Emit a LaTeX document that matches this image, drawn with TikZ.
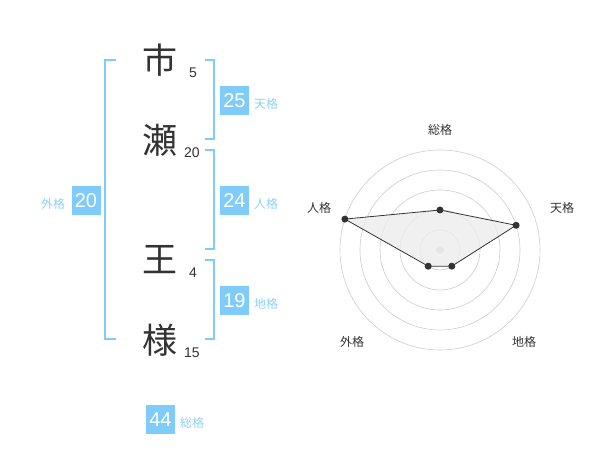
\documentclass[tikz,border=0pt]{standalone}
\usepackage{fontspec}
\setmainfont{Liberation Sans}
\newfontfamily\jp{Noto Sans CJK JP}
\definecolor{boxblue}{HTML}{7FCCFA}
\definecolor{lblblue}{HTML}{8ED1F7}
\definecolor{ink}{HTML}{333333}
\definecolor{ring}{HTML}{CCCCCC}
\begin{document}
\begin{tikzpicture}[x=1pt,y=-1pt,
  kanji/.style={font=\jp\fontsize{35}{35}\selectfont, text=ink, inner sep=0pt},
  stroke/.style={font=\fontsize{14}{14}\selectfont, text=ink, inner sep=0pt},
  numbox/.style={fill=boxblue, text=white, minimum width=29pt, minimum height=29pt, inner sep=0pt, font=\fontsize{20}{20}\selectfont},
  kaku/.style={font=\jp\fontsize{12}{12}\selectfont, text=lblblue, inner sep=0pt},
  bracket/.style={draw=boxblue, line width=2pt},
  axislbl/.style={font=\jp\fontsize{12}{12}\selectfont, text=ink, inner sep=0pt},
  dot/.style={circle, fill=ink, inner sep=0pt, minimum size=7pt}]
\useasboundingbox (0,0) rectangle (600,470);
% kanji
\node[kanji] (k1) at (160,60) {市};
\node[kanji] (k2) at (160,140) {瀬};
\node[kanji] (k3) at (160,260) {王};
\node[kanji] (k4) at (160,340) {様};
\node[stroke] (s1) at (193,73) {5};
\node[stroke] (s2) at (192,153) {20};
\node[stroke] (s3) at (193,273) {4};
\node[stroke] (s4) at (192,353) {15};
% brackets
\coordinate (la) at (116,60); \coordinate (lb) at (116,339);
\draw[bracket] (la) -- (105,60) -- (105,339) -- (lb);
\coordinate (r1a) at (205,60); \coordinate (r1b) at (205,139);
\draw[bracket] (r1a) -- (214,60) -- (214,139) -- (r1b);
\coordinate (r2a) at (205,150); \coordinate (r2b) at (205,249);
\draw[bracket] (r2a) -- (214,150) -- (214,249) -- (r2b);
\coordinate (r3a) at (205,260); \coordinate (r3b) at (205,339);
\draw[bracket] (r3a) -- (214,260) -- (214,339) -- (r3b);
% boxes
\node[numbox] (ten) at (234.5,100.5) {25};
\node[kaku] (tenl) at (266,103.5) {天格};
\node[numbox] (jin) at (234.5,200.5) {24};
\node[kaku] (jinl) at (266,203.5) {人格};
\node[numbox] (gai) at (86,200.5) {20};
\node[kaku] (gail) at (53,203.5) {外格};
\node[numbox] (chi) at (234.5,300.5) {19};
\node[kaku] (chil) at (266,303.5) {地格};
\node[numbox] (sou) at (160.5,419.5) {44};
\node[kaku] (soul) at (192,422.5) {総格};
% radar
\coordinate (c) at (440,250);
\foreach \r in {20,40,60,80,100} \draw[ring, line width=0.6pt] (c) circle (\r);
\fill[ring] (c) circle (4);
\coordinate (pS) at (440,210);
\coordinate (pT) at (516.1,225.3);
\coordinate (pC) at (451.8,266.2);
\coordinate (pG) at (428.2,266.2);
\coordinate (pJ) at (344.9,219.1);
\filldraw[fill=gray!15, fill opacity=0.8, draw=ink, line width=0.8pt] (pS) -- (pT) -- (pC) -- (pG) -- (pJ) -- cycle;
\foreach \p in {pS,pT,pC,pG,pJ} \node[dot] at (\p) {};
\node[axislbl] (aS) at (440,130) {総格};
\node[axislbl] (aT) at (562,208) {天格};
\node[axislbl] (aC) at (524,342) {地格};
\node[axislbl] (aG) at (352,342) {外格};
\node[axislbl] (aJ) at (319,208) {人格};
\end{tikzpicture}
\end{document}
